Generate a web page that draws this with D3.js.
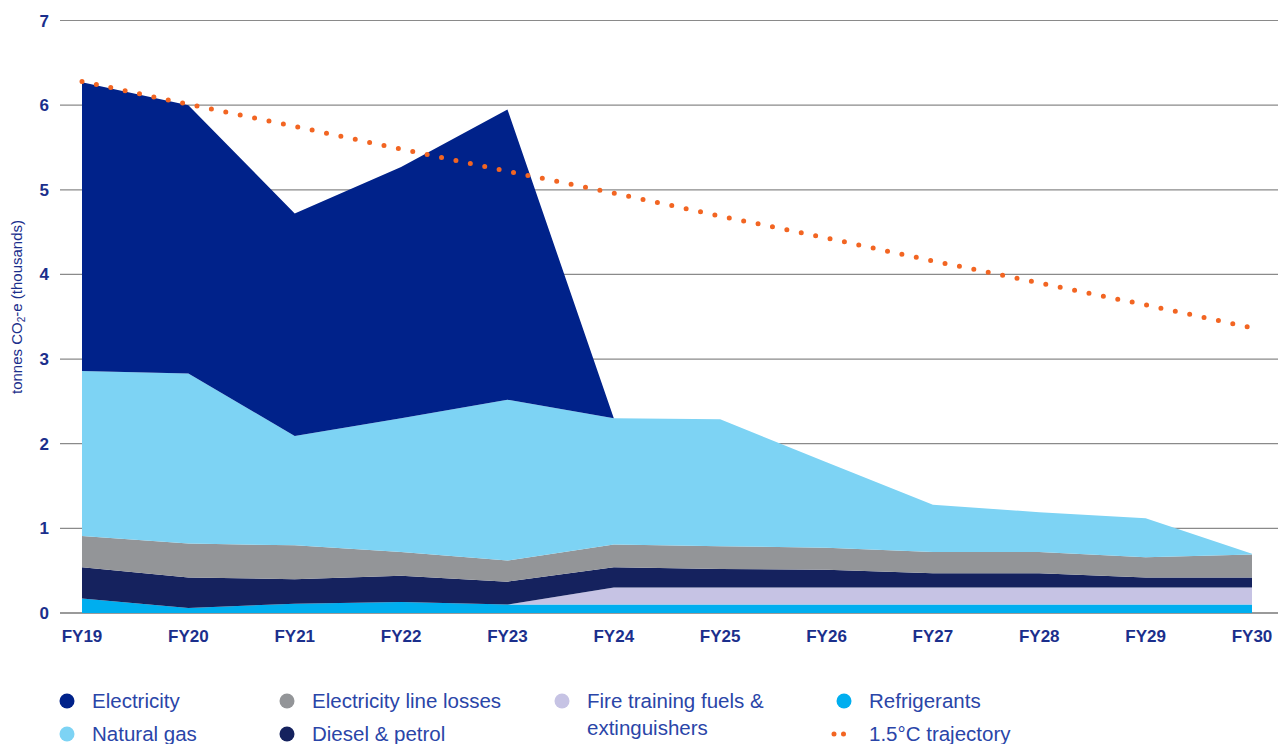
<!DOCTYPE html>
<html>
<head>
<meta charset="utf-8">
<script src="https://cdn.jsdelivr.net/npm/d3@7"></script>
<style>
  body { margin: 0; background: #fff; font-family: "Liberation Sans", Arial, sans-serif; }
  svg { display: block; }
</style>
</head>
<body>
<div id="chart"></div>
<script>
// Emissions by source, FY19 - FY30 (thousand tonnes CO2-e)
const years = ['FY19', 'FY20', 'FY21', 'FY22', 'FY23', 'FY24', 'FY25', 'FY26', 'FY27', 'FY28', 'FY29', 'FY30'];

const refrigerants = [0.17, 0.06, 0.11, 0.13, 0.10, 0.10, 0.10, 0.10, 0.10, 0.10, 0.10, 0.10];
const fireTraining = [0, 0, 0, 0, 0, 0.20, 0.20, 0.20, 0.20, 0.20, 0.20, 0.20];
const diesel = [0.37, 0.36, 0.29, 0.31, 0.27, 0.24, 0.22, 0.21, 0.17, 0.17, 0.12, 0.12];
const lineLosses = [0.37, 0.40, 0.40, 0.28, 0.25, 0.27, 0.27, 0.26, 0.25, 0.25, 0.24, 0.27];
const naturalGas = [1.95, 2.01, 1.29, 1.58, 1.90, 1.49, 1.50, 1.01, 0.56, 0.47, 0.46, 0.01];
const electricity = [3.41, 3.17, 2.63, 2.97, 3.43, 0, 0, 0, 0, 0, 0, 0];

const trajectory = [6.28, 6.01, 5.75, 5.48, 5.22, 4.96, 4.69, 4.43, 4.16, 3.90, 3.64, 3.37];

const yTicks = [0, 1, 2, 3, 4, 5, 6, 7];

const seriesInfo = [
  { key: 'refrigerants', label: 'Refrigerants', values: refrigerants, color: '#00aeef' },
  { key: 'fireTraining', label: 'Fire training fuels & extinguishers', values: fireTraining, color: '#c6c3e4' },
  { key: 'diesel', label: 'Diesel & petrol', values: diesel, color: '#15225e' },
  { key: 'lineLosses', label: 'Electricity line losses', values: lineLosses, color: '#939598' },
  { key: 'naturalGas', label: 'Natural gas', values: naturalGas, color: '#7dd3f4' },
  { key: 'electricity', label: 'Electricity', values: electricity, color: '#00228a' }
];

const width = 1285;
const height = 744;
const textBlue = '#1b2f8c';
const legendBlue = '#2a45a8';

const table = years.map((year, i) => {
  const row = { year };
  seriesInfo.forEach(s => { row[s.key] = s.values[i]; });
  return row;
});

const x = d3.scalePoint().domain(years).range([82, 1252]);
const y = d3.scaleLinear().domain([0, 7]).range([613, 20.5]);

const svg = d3.select('#chart')
  .append('svg')
  .attr('width', width)
  .attr('height', height);

// gridlines
svg.append('g')
  .selectAll('line')
  .data(yTicks)
  .join('line')
  .attr('x1', 60)
  .attr('x2', 1278)
  .attr('y1', d => y(d))
  .attr('y2', d => y(d))
  .attr('stroke', d => d === 0 ? '#9a9a9a' : '#8a8a8a')
  .attr('stroke-width', d => d === 0 ? 2 : 1.2);

// stacked areas
const stack = d3.stack().keys(seriesInfo.map(s => s.key));
const layers = stack(table);

const area = d3.area()
  .x(d => x(d.data.year))
  .y0(d => y(d[0]))
  .y1(d => y(d[1]));

svg.append('g')
  .selectAll('path')
  .data(layers)
  .join('path')
  .attr('d', area)
  .attr('fill', (d, i) => seriesInfo[i].color);

// 1.5C trajectory
const line = d3.line()
  .x((d, i) => x(years[i]))
  .y(d => y(d));

svg.append('path')
  .datum(trajectory)
  .attr('d', line)
  .attr('fill', 'none')
  .attr('stroke', '#f26522')
  .attr('stroke-width', 5)
  .attr('stroke-linecap', 'round')
  .attr('stroke-dasharray', '0 14.7');

// y axis labels
svg.append('g')
  .selectAll('text')
  .data(yTicks)
  .join('text')
  .attr('x', 49)
  .attr('y', d => y(d) + 6)
  .attr('text-anchor', 'end')
  .attr('font-size', 17)
  .attr('font-weight', 'bold')
  .attr('fill', textBlue)
  .text(d => d);

// x axis labels
svg.append('g')
  .selectAll('text')
  .data(years)
  .join('text')
  .attr('x', d => x(d))
  .attr('y', 642)
  .attr('text-anchor', 'middle')
  .attr('font-size', 17)
  .attr('font-weight', 'bold')
  .attr('fill', textBlue)
  .text(d => d);

// y axis title
const title = svg.append('text')
  .attr('transform', 'translate(22,307) rotate(-90)')
  .attr('text-anchor', 'middle')
  .attr('font-size', 15)
  .attr('fill', textBlue);
title.append('tspan').text('tonnes CO');
title.append('tspan').attr('font-size', 10).attr('dy', 3).text('2');
title.append('tspan').attr('dy', -3).text('-e (thousands)');

// legend
const legendItems = [
  { label: ['Electricity'], color: '#00228a', cx: 67, cy: 701 },
  { label: ['Natural gas'], color: '#7dd3f4', cx: 67, cy: 734 },
  { label: ['Electricity line losses'], color: '#939598', cx: 287, cy: 701 },
  { label: ['Diesel & petrol'], color: '#15225e', cx: 287, cy: 734 },
  { label: ['Fire training fuels &', 'extinguishers'], color: '#c6c3e4', cx: 562, cy: 701 },
  { label: ['Refrigerants'], color: '#00aeef', cx: 844, cy: 701 }
];

const legend = svg.append('g');
const item = legend.selectAll('g')
  .data(legendItems)
  .join('g');

item.append('circle')
  .attr('cx', d => d.cx)
  .attr('cy', d => d.cy)
  .attr('r', 7.5)
  .attr('fill', d => d.color);

item.append('text')
  .attr('x', d => d.cx + 25)
  .attr('y', d => d.cy + 7)
  .attr('font-size', 20.5)
  .attr('fill', legendBlue)
  .selectAll('tspan')
  .data(d => d.label.map((t, j) => ({ t, j, x: d.cx + 25 })))
  .join('tspan')
  .attr('x', d => d.x)
  .attr('dy', d => d.j === 0 ? 0 : 27)
  .text(d => d.t);

// trajectory legend
legend.append('line')
  .attr('x1', 834)
  .attr('x2', 853)
  .attr('y1', 734)
  .attr('y2', 734)
  .attr('stroke', '#f26522')
  .attr('stroke-width', 5)
  .attr('stroke-linecap', 'round')
  .attr('stroke-dasharray', '0 9.5');

legend.append('text')
  .attr('x', 869)
  .attr('y', 741)
  .attr('font-size', 20.5)
  .attr('fill', legendBlue)
  .text('1.5°C trajectory');
</script>
</body>
</html>
